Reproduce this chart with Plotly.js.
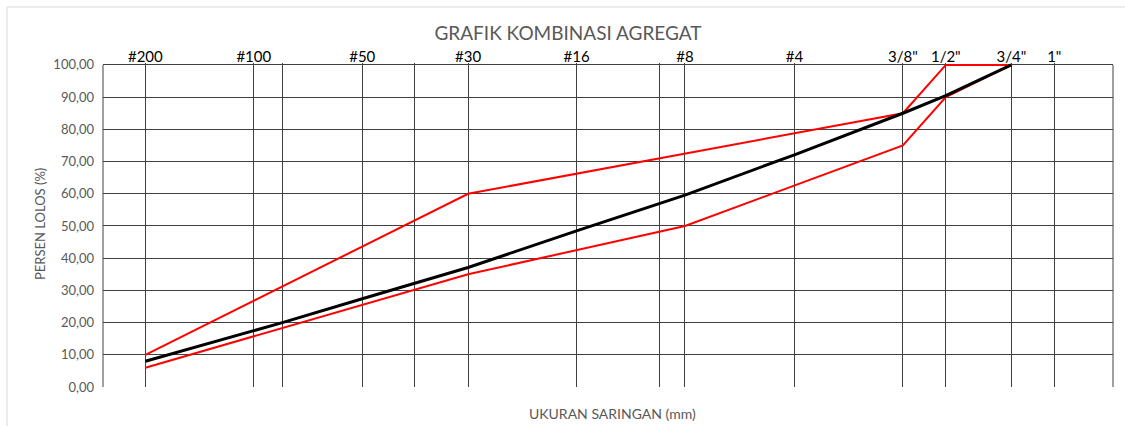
<!DOCTYPE html>
<html>
<head>
<meta charset="utf-8">
<script src="https://cdn.plot.ly/plotly-3.0.1.min.js"></script>
<style>
  html, body { margin: 0; padding: 0; background: #ffffff; }
  #chart { width: 1125px; height: 426px; }
</style>
</head>
<body>
<div id="chart"></div>
<script>
// Sieve sizes (mm) used as vertical grid lines, with their top labels
const sieveSizes  = [0.075, 0.15, 0.18, 0.3, 0.42, 0.59, 1.18, 2.0, 2.36, 4.75, 9.5, 12.5, 19, 25];
const sieveLabels = ['#200', '#100', '', '#50', '', '#30', '#16', '', '#8', '#4', '3/8"', '1/2"', '3/4"', '1"'];

// Combined aggregate gradation (black)
const combSizes  = [0.075, 0.15, 0.18, 0.3, 0.42, 0.59, 1.18, 2.0, 2.36, 4.75, 9.5, 12.5, 19];
const combPass   = [8.0, 17.6, 20.0, 27.4, 32.3, 37.1, 48.5, 56.9, 59.6, 72.1, 85.0, 90.5, 100.0];

// Specification upper limit (red)
const upperSizes = [0.075, 0.59, 9.5, 12.5, 19];
const upperPass  = [10, 60, 85, 100, 100];

// Specification lower limit (red)
const lowerSizes = [0.075, 0.59, 2.36, 9.5, 12.5, 19];
const lowerPass  = [6, 35, 50, 75, 90, 100];

// Y axis ticks
const yTickVals = [0, 10, 20, 30, 40, 50, 60, 70, 80, 90, 100];
const yTickText = yTickVals.map(v => v.toFixed(2).replace('.', ','));

const FONT = 'Lato, "Open Sans", sans-serif';
const GRID = '#404040';
const PH = 324; // plot height in px (426 - 63 - 39)

const traces = [
  { x: upperSizes, y: upperPass, type: 'scatter', mode: 'lines',
    line: { color: '#ff0000', width: 2 }, name: 'Batas Atas', hoverinfo: 'x+y' },
  { x: lowerSizes, y: lowerPass, type: 'scatter', mode: 'lines',
    line: { color: '#ff0000', width: 2 }, name: 'Batas Bawah', hoverinfo: 'x+y' },
  { x: combSizes, y: combPass, type: 'scatter', mode: 'lines',
    line: { color: '#000000', width: 3 }, name: 'Kombinasi', hoverinfo: 'x+y' }
];

const layout = {
  width: 1125, height: 426,
  margin: { l: 103, r: 12, t: 63, b: 39 },
  paper_bgcolor: '#ffffff', plot_bgcolor: '#ffffff',
  showlegend: false,
  font: { family: FONT, color: '#595959' },
  title: {
    text: 'GRAFIK KOMBINASI AGREGAT',
    font: { family: FONT, size: 19, color: '#595959' },
    x: 568 / 1125, xref: 'container', xanchor: 'center',
    y: 1 - 33 / 426, yref: 'container', yanchor: 'middle'
  },
  xaxis: {
    type: 'log',
    range: [-1.24256, 1.56095],
    side: 'top',
    tickmode: 'array',
    tickvals: sieveSizes,
    ticktext: sieveLabels,
    tickfont: { family: FONT, size: 15, color: '#000000' },
    ticks: '',
    ticklabelstandoff: -3,
    showgrid: true, gridcolor: GRID, gridwidth: 1,
    showline: false,
    zeroline: false, fixedrange: true
  },
  yaxis: {
    range: [0, 100.6],
    tickmode: 'array',
    tickvals: yTickVals,
    ticktext: yTickText,
    tickfont: { family: FONT, size: 13, color: '#595959' },
    ticks: '',
    ticklabelstandoff: 8,
    showgrid: true, gridcolor: GRID, gridwidth: 1,
    showline: false,
    zeroline: false, fixedrange: true
  },
  annotations: [
    { text: 'UKURAN SARINGAN (mm)', xref: 'paper', yref: 'paper',
      x: (612 - 103) / 1010, y: (387 - 413) / PH, xanchor: 'center', yanchor: 'middle',
      showarrow: false, font: { family: FONT, size: 14, color: '#595959' } },
    { text: 'PERSEN LOLOS (%)', xref: 'paper', yref: 'paper',
      x: (40 - 103) / 1010, y: (387 - 224) / PH, xanchor: 'center', yanchor: 'middle',
      textangle: -90, showarrow: false, font: { family: FONT, size: 13, color: '#595959' } }
  ],
  shapes: [
    // hide the grid stubs above the 100 line
    { type: 'rect', xref: 'paper', yref: 'y', x0: -0.002, x1: 1.002, y0: 100.25, y1: 100.6,
      line: { width: 0 }, fillcolor: '#ffffff', layer: 'between' },
    // plot-area left and right borders (0 to 100)
    { type: 'line', xref: 'paper', yref: 'y', x0: 0, x1: 0, y0: 0, y1: 100,
      line: { color: GRID, width: 1 }, layer: 'between' },
    { type: 'line', xref: 'paper', yref: 'y', x0: 1, x1: 1, y0: 0, y1: 100,
      line: { color: GRID, width: 1 }, layer: 'between' },
    // outer chart-area border
    { type: 'rect', xref: 'paper', yref: 'paper',
      x0: (7 - 103) / 1010, x1: (1140 - 103) / 1010,
      y0: (387 - 450) / PH, y1: (387 - 7) / PH,
      line: { color: '#d9d9d9', width: 1 }, fillcolor: 'rgba(0,0,0,0)', layer: 'below' }
  ]
};

Plotly.newPlot('chart', traces, layout, { displayModeBar: false, staticPlot: true });
</script>
</body>
</html>
